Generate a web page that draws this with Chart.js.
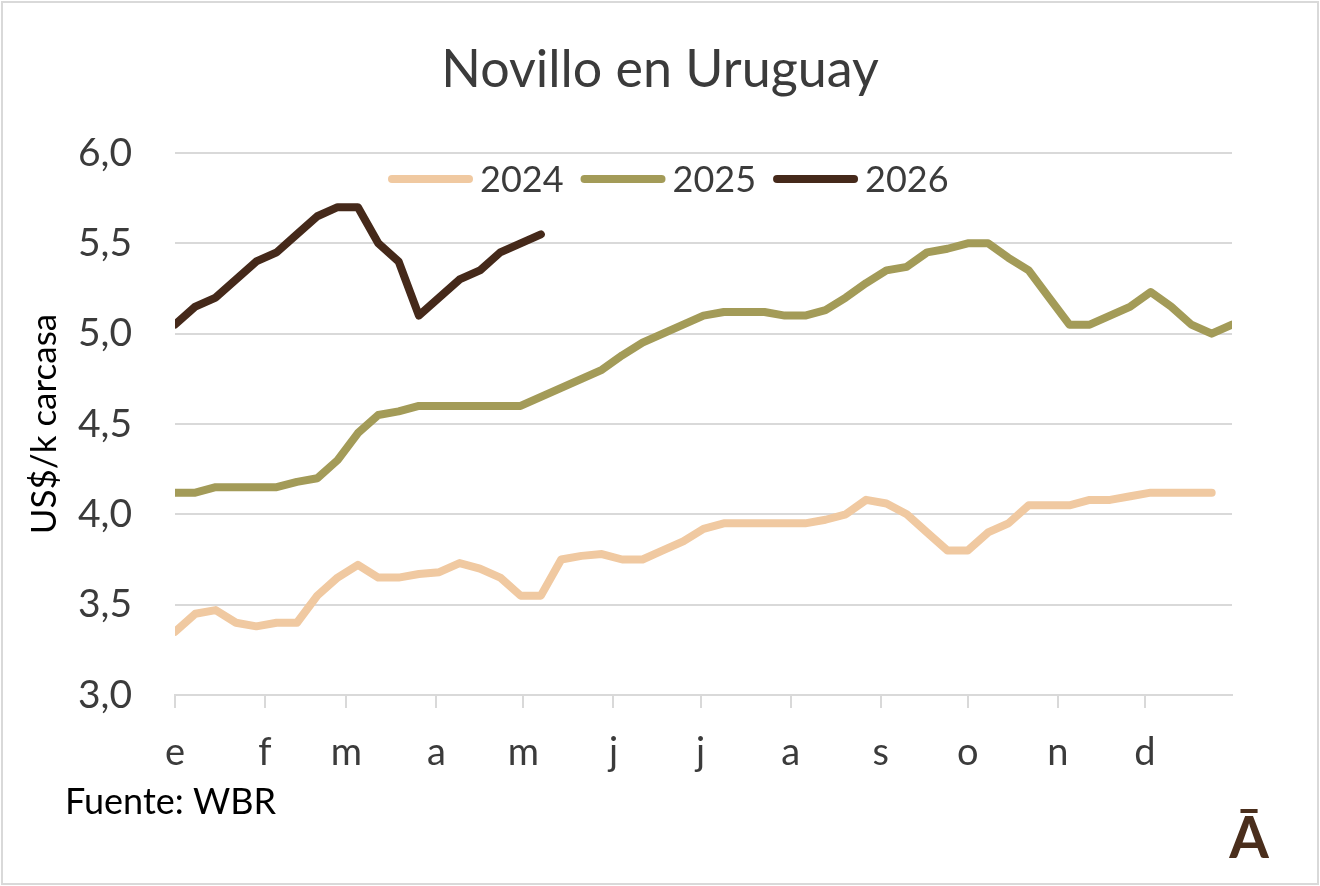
<!DOCTYPE html>
<html><head><meta charset="utf-8">
<script src="https://cdn.jsdelivr.net/npm/chart.js@4.4.1/dist/chart.umd.min.js"></script>
<style>html,body{margin:0;padding:0;background:#fff}#wrap{width:1320px;height:886px;position:relative}</style>
</head><body><div id="wrap"><canvas id="c" width="1320" height="886"></canvas></div>
<script>
// ---- data ----
const weeks = [0,1,2,3,4,5,6,7,8,9,10,11,12,13,14,15,16,17,18,19,20,21,22,23,24,25,26,27,28,29,30,31,32,33,34,35,36,37,38,39,40,41,42,43,44,45,46,47,48,49,50,51,52];
const monthLabels = ['e','f','m','a','m','j','j','a','s','o','n','d'];
const monthStartDays = [0,31,59,90,120,151,181,212,243,273,304,334];
const yTickValues = [3.0,3.5,4.0,4.5,5.0,5.5,6.0];
const seriesNames = ['2024','2025','2026'];
const values2024 = [3.35,3.45,3.47,3.40,3.38,3.40,3.40,3.55,3.65,3.72,3.65,3.65,3.67,3.68,3.73,3.70,3.65,3.55,3.55,3.75,3.77,3.78,3.75,3.75,3.80,3.85,3.92,3.95,3.95,3.95,3.95,3.95,3.97,4.00,4.08,4.06,4.00,3.90,3.80,3.80,3.90,3.95,4.05,4.05,4.05,4.08,4.08,4.10,4.12,4.12,4.12,4.12];
const values2025 = [4.12,4.12,4.15,4.15,4.15,4.15,4.18,4.20,4.30,4.45,4.55,4.57,4.60,4.60,4.60,4.60,4.60,4.60,4.65,4.70,4.75,4.80,4.88,4.95,5.00,5.05,5.10,5.12,5.12,5.12,5.10,5.10,5.13,5.20,5.28,5.35,5.37,5.45,5.47,5.50,5.50,5.42,5.35,5.20,5.05,5.05,5.10,5.15,5.23,5.15,5.05,5.00,5.05];
const values2026 = [5.05,5.15,5.20,5.30,5.40,5.45,5.55,5.65,5.70,5.70,5.50,5.40,5.10,5.20,5.30,5.35,5.45,5.50,5.55];
const seriesColors = ['#F0C9A1','#A39B58','#45291A'];

const FONT = 'Lato, "Open Sans", sans-serif';
const TXT = '#3b3b3b';

const decor = {
  id: 'decor',
  beforeDraw(chart) {
    const ctx = chart.ctx;
    ctx.save();
    ctx.fillStyle = '#fff';
    ctx.fillRect(0, 0, chart.width, chart.height);
    ctx.restore();
  },
  afterDraw(chart) {
    const ctx = chart.ctx;
    ctx.save();
    // border
    ctx.strokeStyle = '#d9d9d9';
    ctx.lineWidth = 2;
    ctx.strokeRect(2, 2, chart.width - 4, chart.height - 4);
    // title
    ctx.fillStyle = TXT;
    ctx.font = '52px ' + FONT;
    ctx.textAlign = 'center';
    ctx.textBaseline = 'middle';
    ctx.fillText('Novillo en Uruguay', 660, 70);
    // legend
    ctx.font = '36px ' + FONT;
    ctx.textAlign = 'left';
    let x = 388;
    const y = 179;
    chart.data.datasets.forEach(ds => {
      ctx.strokeStyle = ds.borderColor;
      ctx.lineWidth = 8;
      ctx.lineCap = 'round';
      ctx.beginPath();
      ctx.moveTo(x + 4, y);
      ctx.lineTo(x + 81, y);
      ctx.stroke();
      ctx.fillStyle = TXT;
      ctx.fillText(ds.label, x + 92, y + 1);
      x = x + 92 + ctx.measureText(ds.label).width + 17;
    });
    // source
    ctx.fillStyle = '#000';
    ctx.font = '36px ' + FONT;
    ctx.textBaseline = 'alphabetic';
    ctx.fillText('Fuente: WBR', 65, 814);
    // logo
    ctx.fillStyle = '#4a2e1c';
    ctx.font = 'bold 57px ' + FONT;
    ctx.textAlign = 'center';
    ctx.fillText('\u0100', 1249, 858);
    ctx.restore();
  }
};

new Chart(document.getElementById('c'), {
  type: 'line',
  data: {
    labels: weeks,
    datasets: [
      { label: seriesNames[0], data: values2024, borderColor: seriesColors[0] },
      { label: seriesNames[1], data: values2025, borderColor: seriesColors[1] },
      { label: seriesNames[2], data: values2026, borderColor: seriesColors[2] }
    ].map(d => Object.assign(d, { borderWidth: 8, pointRadius: 0, tension: 0, fill: false, borderJoinStyle: 'round', borderCapStyle: 'round', clip: 0 }))
  },
  options: {
    responsive: false,
    animation: false,
    devicePixelRatio: 1,
    layout: { padding: { left: 0, top: 153, right: 88, bottom: 100 } },
    plugins: { legend: { display: false }, title: { display: false }, tooltip: { enabled: false } },
    scales: {
      x: {
        type: 'linear',
        min: 0, max: 52,
        afterBuildTicks(scale) { scale.ticks = monthStartDays.map(d => ({ value: d / 7 })); },
        afterFit(scale) { scale.height = 91; scale.paddingLeft = 0; scale.paddingRight = 0; },
        ticks: {
          autoSkip: false, maxRotation: 0, padding: 22,
          color: TXT, font: { family: FONT, size: 38 },
          callback: (v, i) => monthLabels[i]
        },
        grid: { drawOnChartArea: false, drawTicks: true, tickLength: 13, color: '#d9d9d9', lineWidth: 2 },
        border: { display: true, color: '#d9d9d9', width: 2 }
      },
      y: {
        min: 3, max: 6,
        afterBuildTicks(scale) { scale.ticks = yTickValues.map(v => ({ value: v })); },
        afterFit(scale) { scale.width = 175; scale.paddingTop = 0; scale.paddingBottom = 0; },
        ticks: {
          padding: 43, color: TXT, font: { family: FONT, size: 39 },
          callback: v => v.toFixed(1).replace('.', ',')
        },
        grid: { drawTicks: false, color: '#d9d9d9', lineWidth: 2 },
        border: { display: false },
        title: { display: true, text: 'US$/k carcasa', color: '#000', font: { family: FONT, size: 35 }, padding: { top: 24, bottom: 0 } }
      }
    }
  },
  plugins: [decor]
});
</script></body></html>
